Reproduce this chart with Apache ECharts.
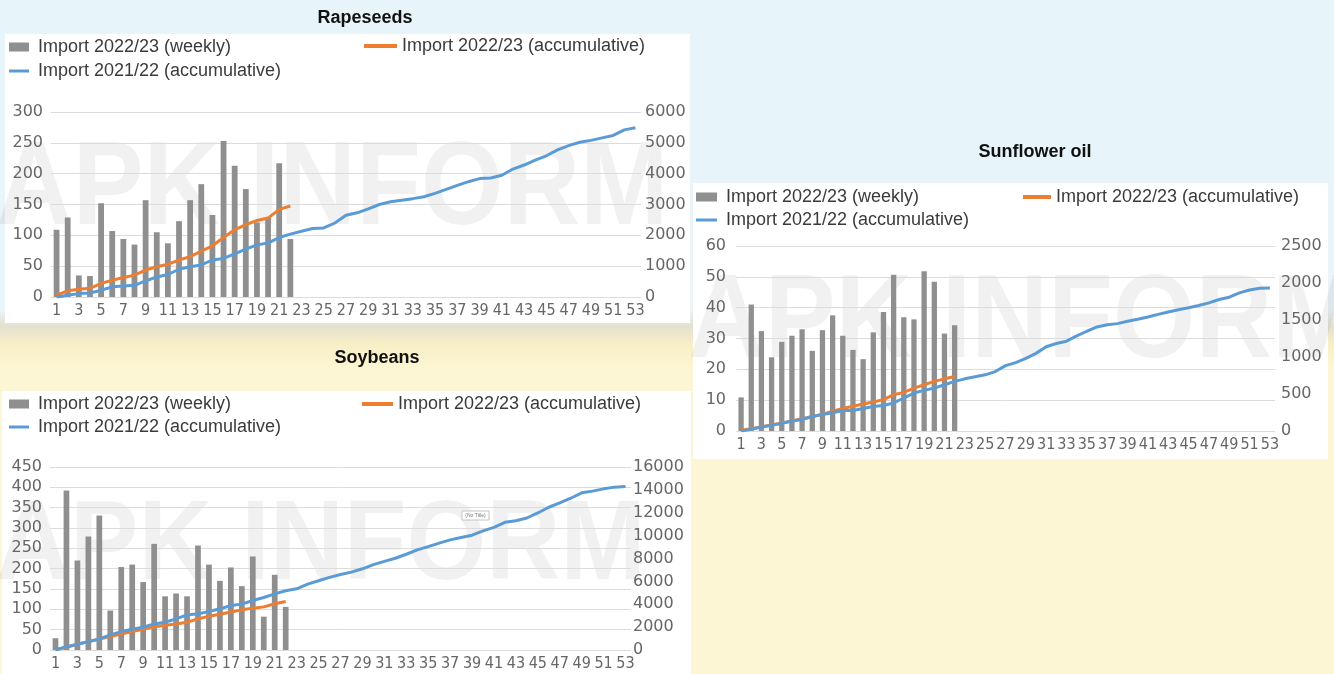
<!DOCTYPE html>
<html>
<head>
<meta charset="utf-8">
<title>Weekly imports</title>
<script src="https://cdn.jsdelivr.net/npm/echarts@6/dist/echarts.min.js"></script>
<style>
  html, body { margin: 0; padding: 0; }
  #chart { width: 1334px; height: 674px; }
</style>
</head>
<body>
<div id="chart"></div>
<script>
// weeks of the season
var weeks = ['1', '2', '3', '4', '5', '6', '7', '8', '9', '10', '11', '12', '13', '14', '15', '16', '17', '18',
  '19', '20', '21', '22', '23', '24', '25', '26', '27', '28', '29', '30', '31', '32', '33', '34', '35', '36',
  '37', '38', '39', '40', '41', '42', '43', '44', '45', '46', '47', '48', '49', '50', '51', '52', '53']

var nameWeekly = 'Import 2022/23 (weekly)'
var nameAcc = 'Import 2022/23 (accumulative)'
var namePrev = 'Import 2021/22 (accumulative)'

// Rapeseeds
var rapeWeekly = [109, 129, 35, 34, 152, 107, 94, 85, 157, 105, 87, 123, 157, 183, 133, 253, 213, 175, 121, 128, 217, 94]
var rapeAcc = [60, 200, 250, 280, 440, 545, 630, 710, 875, 980, 1060, 1200, 1310, 1490, 1660, 1930, 2180, 2350, 2480, 2560, 2840, 2950]
var rapePrev = [0, 55, 110, 130, 220, 330, 360, 380, 520, 650, 730, 900, 980, 1040, 1200, 1250, 1400, 1550, 1690, 1750,
  1930, 2040, 2130, 2220, 2240, 2400, 2650, 2730, 2860, 3000, 3090, 3140, 3190, 3250, 3360, 3490, 3620, 3740, 3840,
  3860, 3950, 4150, 4280, 4440, 4580, 4770, 4910, 5020, 5080, 5160, 5240, 5420, 5490]
var rapeLeftAxis = [0, 300, 50]
var rapeRightAxis = [0, 6000, 1000]

// Soybeans
var soyWeekly = [29, 392, 220, 279, 331, 97, 204, 210, 167, 261, 132, 139, 132, 257, 210, 170, 203, 157, 230, 82, 185, 106]
var soyAcc = [30, 230, 500, 730, 960, 1170, 1400, 1610, 1810, 2020, 2160, 2280, 2430, 2720, 2950, 3130, 3330, 3510, 3660, 3770, 4040, 4240]
var soyPrev = [0, 290, 500, 730, 960, 1320, 1610, 1810, 1990, 2280, 2430, 2720, 3070, 3160, 3360, 3600, 3890, 4010, 4330,
  4590, 4910, 5180, 5350, 5760, 6050, 6350, 6600, 6810, 7100, 7460, 7750, 8020, 8370, 8750, 9040, 9340, 9630, 9840,
  10040, 10420, 10720, 11160, 11300, 11540, 11980, 12480, 12860, 13270, 13740, 13890, 14090, 14240, 14300]
var soyLeftAxis = [0, 450, 50]
var soyRightAxis = [0, 16000, 2000]

// Sunflower oil
var sunWeekly = [10.9, 41, 32.4, 23.9, 28.9, 30.9, 33, 26, 32.7, 37.5, 30.9, 26.3, 23.3, 32, 38.6, 50.7, 36.9, 36.2, 51.8, 48.4, 31.6, 34.3]
var sunAcc = [10, 31, 58, 80, 107, 134, 165, 196, 223, 268, 304, 335, 366, 393, 424, 491, 522, 580, 625, 670, 705, 737]
var sunPrev = [0, 22, 54, 76, 103, 134, 156, 196, 223, 246, 277, 277, 304, 330, 344, 379, 446, 513, 549, 580, 625, 670,
  705, 732, 759, 803, 884, 924, 982, 1049, 1138, 1183, 1214, 1286, 1348, 1406, 1437, 1451, 1482, 1509, 1540, 1576,
  1607, 1638, 1665, 1696, 1732, 1777, 1808, 1866, 1906, 1928, 1933]
var sunLeftAxis = [0, 60, 10]
var sunRightAxis = [0, 2500, 500]

var gray = '#8f8f8f'
var orange = '#ed7d31'
var blue = '#5b9bd5'
var labelColor = '#666666'
var axisFont = 'DejaVu Sans'
var weekFont = 'DejaVu Sans Condensed'
var textFont = 'Liberation Sans'
var skyColor = '#e7f4fa'
var sandColor = '#fdf6d4'

// layout of the three panels
var panels = [
  { grid: { left: 51, top: 112, width: 590, height: 185 }, weekly: rapeWeekly, acc: rapeAcc, prev: rapePrev,
    leftAxis: rapeLeftAxis, rightAxis: rapeRightAxis, leftMargin: 8, rightMargin: 4,
    legend: [[9, 48, 20], [364, 47, 33], [9, 72, 20]] },
  { grid: { left: 50, top: 467, width: 581, height: 183 }, weekly: soyWeekly, acc: soyAcc, prev: soyPrev,
    leftAxis: soyLeftAxis, rightAxis: soyRightAxis, leftMargin: 8, rightMargin: 2,
    legend: [[9, 405, 20], [362, 405, 31], [9, 428, 20]] },
  { grid: { left: 736, top: 246, width: 539, height: 185 }, weekly: sunWeekly, acc: sunAcc, prev: sunPrev,
    leftAxis: sunLeftAxis, rightAxis: sunRightAxis, leftMargin: 10, rightMargin: 6,
    legend: [[696, 198, 21], [1023, 198, 28], [696, 221, 21]] }
]

var grids = []
var xAxes = []
var yAxes = []
var series = []
var legends = []

function legendItem(name, pos, h, gap) {
  return {
    data: [name],
    left: pos[0],
    top: pos[1] - 10,
    padding: 0,
    itemWidth: pos[2],
    itemHeight: h,
    icon: 'rect',
    selectedMode: false,
    textStyle: { fontFamily: textFont, fontSize: 18, color: '#3b3b3b', padding: [0, 0, 0, gap] }
  }
}

function plain(v) {
  return String(v)
}

panels.forEach(function(p, i) {
  grids.push(p.grid)
  xAxes.push({
    type: 'category',
    gridIndex: i,
    data: weeks,
    axisLine: { show: false },
    axisTick: { show: false },
    axisLabel: { interval: 1, margin: 6, fontSize: 16, fontFamily: weekFont, color: labelColor }
  })
  yAxes.push({
    type: 'value',
    gridIndex: i,
    position: 'left',
    min: p.leftAxis[0],
    max: p.leftAxis[1],
    interval: p.leftAxis[2],
    axisLine: { show: false },
    axisTick: { show: false },
    splitLine: { lineStyle: { color: '#dcdcdc' } },
    axisLabel: { margin: p.leftMargin, fontSize: 16, fontFamily: axisFont, color: labelColor, formatter: plain }
  })
  yAxes.push({
    type: 'value',
    gridIndex: i,
    position: 'right',
    min: p.rightAxis[0],
    max: p.rightAxis[1],
    interval: p.rightAxis[2],
    axisLine: { show: false },
    axisTick: { show: false },
    splitLine: { show: false },
    axisLabel: { margin: p.rightMargin, fontSize: 16, fontFamily: axisFont, color: labelColor, formatter: plain }
  })
  series.push({
    name: nameWeekly, type: 'bar', xAxisIndex: i, yAxisIndex: i * 2,
    data: p.weekly, barWidth: '52%', itemStyle: { color: gray }
  })
  series.push({
    name: nameAcc, type: 'line', xAxisIndex: i, yAxisIndex: i * 2 + 1,
    data: p.acc, symbol: 'none', itemStyle: { color: orange }, lineStyle: { color: orange, width: 3 }
  })
  series.push({
    name: namePrev, type: 'line', xAxisIndex: i, yAxisIndex: i * 2 + 1,
    data: p.prev, symbol: 'none', itemStyle: { color: blue }, lineStyle: { color: blue, width: 3 }
  })
  legends.push(legendItem(nameWeekly, p.legend[0], 9, 4))
  legends.push(legendItem(nameAcc, p.legend[1], 4, 0))
  legends.push(legendItem(namePrev, p.legend[2], 3, 4))
})

function title(text, x, y) {
  return {
    type: 'text', x: x, y: y, z: 10,
    style: { text: text, fontFamily: textFont, fontSize: 18, fontWeight: 'bold', fill: '#111',
      align: 'center', verticalAlign: 'middle', textAlign: 'center', textVerticalAlign: 'middle' }
  }
}

// faint logo text behind each panel
function watermark(x, y, size, z) {
  return {
    type: 'text', x: x, y: y, z: z, scaleX: 0.9,
    style: { text: 'APK INFORM', fontFamily: textFont, fontSize: size, fontWeight: 'bold',
      fill: 'rgba(0,0,0,0.055)', verticalAlign: 'middle', textVerticalAlign: 'middle' }
  }
}

function box(x, y, w, h, fill, z) {
  return { type: 'rect', z: z, shape: { x: x, y: y, width: w, height: h }, style: { fill: fill } }
}

var graphics = [
  {
    type: 'rect', z: -100,
    shape: { x: 0, y: 0, width: 1334, height: 674 },
    style: {
      fill: {
        type: 'linear', x: 0, y: 0, x2: 0, y2: 1,
        colorStops: [
          { offset: 0, color: skyColor },
          { offset: 0.46, color: '#eaf5f8' },
          { offset: 0.485, color: '#e3e0cf' },
          { offset: 0.51, color: '#f8efc6' },
          { offset: 0.55, color: sandColor },
          { offset: 1, color: sandColor }
        ]
      }
    }
  },
  box(5, 34, 685, 289, '#ffffff', -90),
  watermark(-4, 191, 118, -89),
  box(691, 0, 643, 183, skyColor, -85),
  box(2, 391, 689, 283, '#ffffff', -80),
  watermark(-4, 548, 114, -79),
  box(691, 459, 643, 215, sandColor, -75),
  box(693, 183, 635, 276, '#ffffff', -70),
  watermark(688, 324, 118, -69),
  title('Rapeseeds', 365, 18),
  title('Soybeans', 377, 358),
  title('Sunflower oil', 1035, 152),
  { type: 'rect', z: 5, shape: { x: 462, y: 511, width: 27, height: 9 }, style: { fill: '#fff', stroke: '#c4c4c4', lineWidth: 1 } },
  { type: 'text', x: 475.5, y: 515.5, z: 6,
    style: { text: '(No Title)', fontSize: 5, fill: '#777', align: 'center', verticalAlign: 'middle', textAlign: 'center', textVerticalAlign: 'middle' } }
]

var chart = echarts.init(document.getElementById('chart'))
chart.setOption({
  animation: false,
  graphic: { elements: graphics },
  legend: legends,
  grid: grids,
  xAxis: xAxes,
  yAxis: yAxes,
  series: series
})
</script>
</body>
</html>
